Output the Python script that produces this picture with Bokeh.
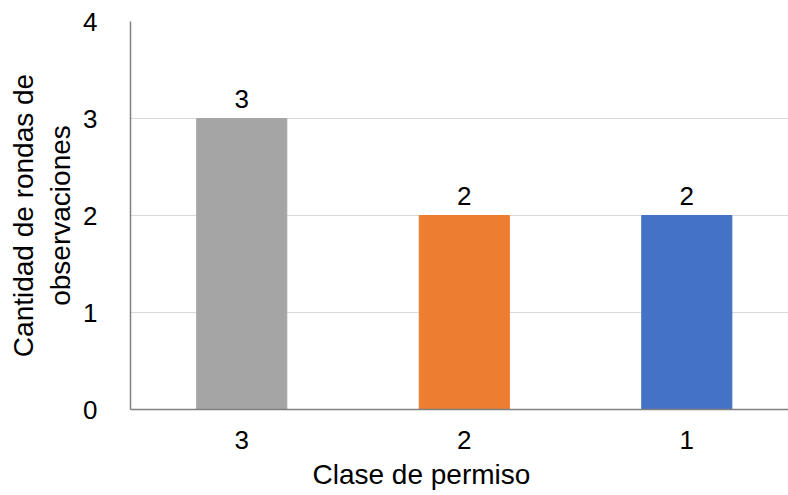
from bokeh.plotting import figure
from bokeh.models import Range1d, FixedTicker, ColumnDataSource, LabelSet, Title
from bokeh.core.properties import value
from bokeh.embed import file_html
from bokeh.resources import INLINE

categories = ["3", "2", "1"]
values = [3, 2, 2]
colors = ["#A5A5A5", "#ED7D31", "#4472C4"]
y_ticks = [0, 1, 2, 3, 4]

xpos = [i + 0.5 for i in range(len(categories))]
src = ColumnDataSource(dict(x=xpos, top=values, color=colors, lab=[str(v) for v in values]))

FONT = "Liberation Sans"

p = figure(width=788, height=495, output_backend="svg", toolbar_location=None,
           x_range=Range1d(0, 2.957), y_range=Range1d(0, 4),
           min_border_left=130, min_border_right=0, min_border_top=21, min_border_bottom=86)
p.outline_line_color = None
p.background_fill_color = "white"

p.vbar(x="x", top="top", width=0.405, color="color", source=src)

labels = LabelSet(x="x", y="top", text="lab", source=src, text_align="center",
                  text_baseline="alphabetic", y_offset=11, text_font=value(FONT),
                  text_font_size="26px", text_color="#000000")
p.add_layout(labels)

p.xaxis.ticker = FixedTicker(ticks=xpos)
p.xaxis.major_label_overrides = {x: c for x, c in zip(xpos, categories)}
p.yaxis.ticker = FixedTicker(ticks=y_ticks)

for ax in (p.xaxis, p.yaxis):
    ax.major_tick_line_color = None
    ax.minor_tick_line_color = None
    ax.major_label_text_font = FONT
    ax.major_label_text_font_size = "26px"
    ax.major_label_text_color = "#000000"
    ax.axis_label_text_font = FONT
    ax.axis_label_text_font_size = "28px"
    ax.axis_label_text_font_style = "normal"
    ax.axis_label_text_color = "#000000"
    ax.axis_line_color = "#808080"
    ax.axis_line_width = 1.5

p.yaxis.axis_label = "Cantidad de rondas de\nobservaciones"
p.xaxis.major_label_standoff = 15
p.yaxis.major_label_standoff = 27
p.yaxis.axis_label_standoff = 4

xtitle = Title(text="Clase de permiso", align="left", offset=182,
               text_font=FONT, text_font_size="28px", text_font_style="normal",
               text_color="#000000", standoff=11)
p.add_layout(xtitle, "below")

p.xgrid.grid_line_color = None
p.ygrid.grid_line_color = "#D9D9D9"
p.ygrid.grid_line_width = 1.2

open("out.html", "w").write(file_html(p, INLINE))
